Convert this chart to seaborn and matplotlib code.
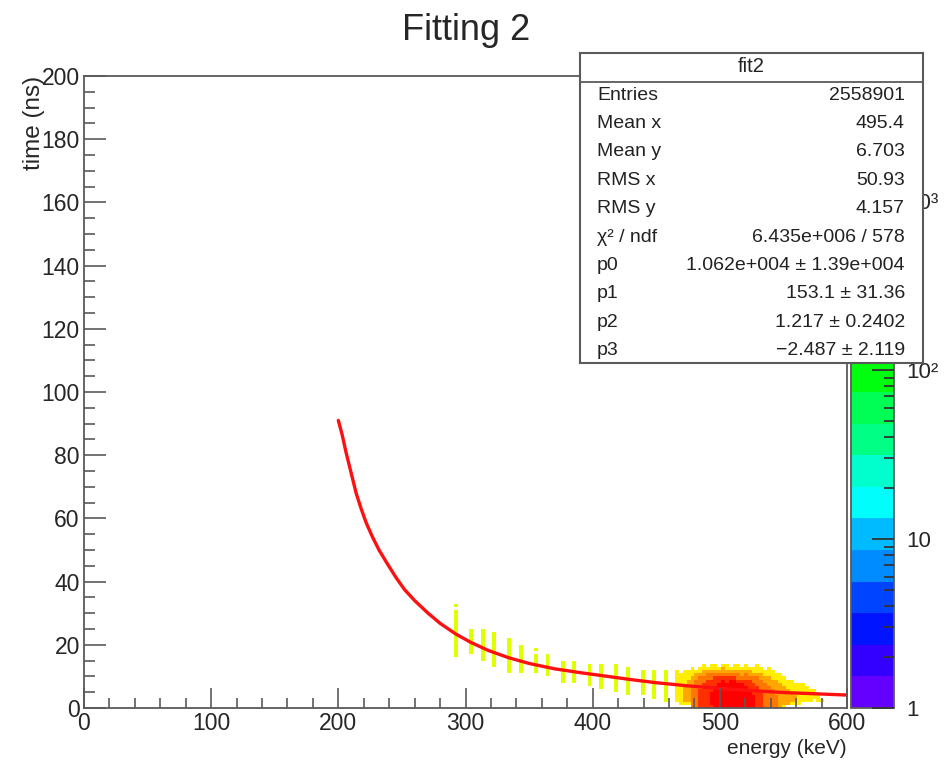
import colorsys
import numpy as np
import pandas as pd
import matplotlib
matplotlib.use("Agg")
import matplotlib.pyplot as plt
import seaborn as sns
from matplotlib.colors import ListedColormap, LogNorm
from matplotlib.ticker import MultipleLocator, LogLocator, NullFormatter

# ---------------- data ----------------
TITLE = "Fitting 2"
X_LABEL = "energy (keV)"
Y_LABEL = "time (ns)"
X_RANGE = (0, 600)
Y_RANGE = (0, 200)
BIN_E = 3      # keV per x bin
BIN_T = 1      # ns per y bin
Z_MAX = 5500
CBAR_TICKS = [1, 10, 100, 1000]
CBAR_TICK_LABELS = ["1", "10", "10\u00b2", "10\u00b3"]

# sparse vertical bars (lower bin edge in keV, time range [t0, t1) in ns)
BAR_E0 = [291, 303, 312, 321, 333, 342, 354, 363, 375, 384, 396, 405, 417, 426, 438, 447, 456]
BAR_T0 = [16, 17, 15, 13, 11, 11, 11, 10, 8, 8, 7, 6, 5, 4, 4, 3, 2]
BAR_T1 = [31, 25, 25, 24, 22, 20, 17, 17, 15, 15, 14, 14, 14, 13, 12, 12, 12]
BAR_COUNT = 500
DOT_E0 = [291, 354]
DOT_T0 = [32, 18]

# dense cluster: one entry per 3 keV column; time range [bottom, top) per count level
CLUSTER_E0 = [465, 468, 471, 474, 477, 480, 483, 486, 489, 492, 495, 498, 501,
              504, 507, 510, 513, 516, 519, 522, 525, 528, 531, 534, 537, 540,
              543, 546, 549, 552, 555, 558, 561, 564, 567, 570, 573, 576, 579]
LEVEL_COUNTS = [800, 1200, 1900, 2900, 4500]
LEVEL_BOTTOM = [
    [2, 1, 1, 1, 0, 0, 0, 0, 0, 0, 0, 0, 0, 0, 0, 0, 0, 0, 0, 0, 0, 0, 0, 0, 0, 0,
     0, 0, 0, 1, 1, 1, 1, 2, 2, 2, 3, 2, 2],
    [0, 0, 2, 2, 1, 0, 0, 0, 0, 0, 0, 0, 0, 0, 0, 0, 0, 0, 0, 0, 0, 0, 0, 0, 0, 0,
     0, 0, 1, 1, 2, 2, 0, 0, 0, 0, 0, 0, 0],
    [0] * 39,
    [0] * 39,
    [0, 0, 0, 0, 0, 0, 0, 0, 0, 1, 0, 0, 0, 0, 0, 0, 0, 0, 0, 0, 0, 1, 0, 0, 0, 0,
     0, 0, 0, 0, 0, 0, 0, 0, 0, 0, 0, 0, 0],
]
LEVEL_TOP = [
    [12, 11, 12, 12, 13, 12, 13, 14, 13, 14, 14, 13, 14, 14, 13, 14, 14, 13, 14, 13,
     13, 14, 13, 12, 13, 12, 11, 11, 10, 9, 9, 8, 8, 8, 7, 6, 6, 4, 3],
    [0, 0, 7, 9, 10, 11, 11, 12, 12, 12, 12, 12, 13, 12, 12, 12, 12, 12, 12, 12,
     11, 11, 11, 10, 10, 9, 9, 8, 7, 6, 5, 4, 0, 0, 0, 0, 0, 0, 0],
    [0, 0, 0, 0, 7, 9, 10, 10, 11, 11, 11, 11, 11, 11, 11, 11, 11, 10, 11, 10,
     10, 10, 9, 8, 7, 6, 4, 0, 0, 0, 0, 0, 0, 0, 0, 0, 0, 0, 0],
    [0, 0, 0, 0, 0, 0, 6, 8, 9, 9, 10, 10, 10, 10, 10, 10, 9, 9, 9, 9,
     8, 7, 5, 0, 0, 0, 0, 0, 0, 0, 0, 0, 0, 0, 0, 0, 0, 0, 0],
    [0, 0, 0, 0, 0, 0, 0, 0, 0, 5, 7, 8, 9, 8, 9, 9, 8, 8, 7, 6,
     4, 0, 0, 0, 0, 0, 0, 0, 0, 0, 0, 0, 0, 0, 0, 0, 0, 0, 0],
]

# fitted curve
FIT_E = [200, 203, 206, 210, 214, 218, 222, 227, 232, 238, 245, 252, 260, 270, 280,
         292, 304, 318, 334, 350, 370, 390, 410, 430, 450, 475, 500, 525, 550, 575, 600]
FIT_T = [91, 86.5, 81, 74.5, 68, 63, 58.5, 54, 50, 46, 41.5, 37.5, 34, 30.2, 26.8,
         23.5, 20.8, 18.2, 15.9, 14.1, 12.4, 11.2, 10.1, 9.0, 8.0, 7.0, 6.2, 5.5, 4.9, 4.5, 4.1]

STAT_TITLE = "fit2"
STAT_LABELS = ["Entries", "Mean x", "Mean y", "RMS x", "RMS y", "\u03c7\u00b2 / ndf",
               "p0", "p1", "p2", "p3"]
STAT_VALUES = ["2558901", "495.4", "6.703", "50.93", "4.157", "6.435e+006 / 578",
               "1.062e+004 \u00b1 1.39e+004", "153.1 \u00b1 31.36", "1.217 \u00b1 0.2402",
               "\u22122.487 \u00b1 2.119"]

# ---------------- build histogram cells ----------------
cells = {}


def fill(e0, e1, t0, t1, count):
    for e in np.arange(e0, e1, BIN_E):
        for t in np.arange(t0, t1, BIN_T):
            cells[(e + BIN_E / 2, t + BIN_T / 2)] = count


for e0, t0, t1 in zip(BAR_E0, BAR_T0, BAR_T1):
    fill(e0, e0 + BIN_E, t0, t1, BAR_COUNT)
for e0, t0 in zip(DOT_E0, DOT_T0):
    fill(e0, e0 + BIN_E, t0, t0 + BIN_T, BAR_COUNT)
for count, bots, tops in zip(LEVEL_COUNTS, LEVEL_BOTTOM, LEVEL_TOP):
    for e0, t0, t1 in zip(CLUSTER_E0, bots, tops):
        if t1 > t0:
            fill(e0, e0 + BIN_E, t0, t1, count)

df = pd.DataFrame([(k[0], k[1], v) for k, v in cells.items()],
                  columns=["energy", "time", "count"])

# ---------------- style ----------------
sns.set_style("ticks")
plt.rcParams["font.family"] = ["Liberation Sans", "DejaVu Sans"]

# ROOT "pretty palette" with 20 contour levels
ncol, ncont = 50, 20
pal = []
for i in range(ncont):
    idx = int((i + 0.99) * ncol / ncont)
    hue = 280 - (idx + 1) * (280 / ncol)
    pal.append(colorsys.hls_to_rgb(hue / 360.0, 0.5, 1.0))
cmap = ListedColormap(pal)
norm = LogNorm(vmin=1, vmax=Z_MAX)

W, H = 945, 764
fig = plt.figure(figsize=(W / 100, H / 100), dpi=100)
fig.patch.set_facecolor("white")

L, R, T, B = 84, 847, 76, 708
ax = fig.add_axes([L / W, 1 - B / H, (R - L) / W, (B - T) / H])

x_edges = np.arange(X_RANGE[0], X_RANGE[1] + BIN_E / 2, BIN_E)
y_edges = np.arange(Y_RANGE[0], Y_RANGE[1] + BIN_T / 2, BIN_T)
sns.histplot(data=df, x="energy", y="time", weights="count",
             bins=[x_edges, y_edges], ax=ax, cbar=False)
mesh = ax.collections[0]
mesh.set_cmap(cmap)
mesh.set_norm(norm)

sns.lineplot(x=FIT_E, y=FIT_T, ax=ax, color="#ff1010", linewidth=2.4, sort=False)

ax.set_axisbelow(False)
ax.set_xlim(*X_RANGE)
ax.set_ylim(*Y_RANGE)
ax.xaxis.set_major_locator(MultipleLocator(100))
ax.xaxis.set_minor_locator(MultipleLocator(20))
ax.yaxis.set_major_locator(MultipleLocator(20))
ax.yaxis.set_minor_locator(MultipleLocator(5))
frame_col = "#5a5a5a"
ax.tick_params(axis="x", which="major", direction="in", length=14.5, width=1.2,
               color=frame_col, labelsize=16.5, pad=3)
ax.tick_params(axis="x", which="minor", direction="in", length=7, width=1.2, color=frame_col)
ax.tick_params(axis="y", which="major", direction="in", length=16, width=1.2,
               color=frame_col, labelsize=16.5, pad=3)
ax.tick_params(axis="y", which="minor", direction="in", length=8, width=1.2, color=frame_col)
for s in ax.spines.values():
    s.set_color(frame_col)
    s.set_linewidth(1.3)

ax.set_xlabel(X_LABEL, fontsize=15, loc="right")
ax.xaxis.set_label_coords(1.0, -(739 - B) / (B - T))
ax.set_ylabel(Y_LABEL, fontsize=17.5, loc="top")
ax.yaxis.set_label_coords(-(L - 45) / (R - L), 1.0)

fig.text(466 / W, 1 - 30 / H, TITLE, ha="center", va="center", fontsize=26)

# colour bar
cax = fig.add_axes([851 / W, 1 - B / H, 43 / W, (B - T) / H])
cb = fig.colorbar(mesh, cax=cax)
cax.set_axisbelow(False)
cb.set_ticks(CBAR_TICKS)
cb.set_ticklabels(CBAR_TICK_LABELS)
cax.yaxis.set_minor_locator(LogLocator(base=10, subs=np.arange(2, 10) * 1.0))
cax.yaxis.set_minor_formatter(NullFormatter())
cax.tick_params(axis="y", which="major", direction="in", length=16, width=1.3,
                color="#333333", labelsize=16, pad=9)
cax.tick_params(axis="y", which="minor", direction="in", length=7, width=1.3, color="#333333")
cb.outline.set_edgecolor(frame_col)
cb.outline.set_linewidth(1.3)

# statistics box
bx0, bx1, by0, by1 = 580, 923, 53, 363
sax = fig.add_axes([bx0 / W, 1 - by1 / H, (bx1 - bx0) / W, (by1 - by0) / H], zorder=10)
sax.set_facecolor("white")
sax.set_xticks([])
sax.set_yticks([])
sax.set_xlim(0, 1)
sax.set_ylim(0, 1)
for s in sax.spines.values():
    s.set_color(frame_col)
    s.set_linewidth(1.5)
bh = by1 - by0
sax.axhline(1 - (82 - by0) / bh, color=frame_col, linewidth=1.3)
sax.text(0.5, 1 - (67 - by0) / bh, STAT_TITLE, ha="center", va="center", fontsize=14.5,
         color="#222222")
for i, (lab, val) in enumerate(zip(STAT_LABELS, STAT_VALUES)):
    yy = 1 - (95 + i * 28.4 - by0) / bh
    sax.text(0.05, yy, lab, ha="left", va="center", fontsize=14, color="#222222")
    sax.text(0.947, yy, val, ha="right", va="center", fontsize=14, color="#222222")

fig.savefig("out.png", dpi=100, facecolor="white")
